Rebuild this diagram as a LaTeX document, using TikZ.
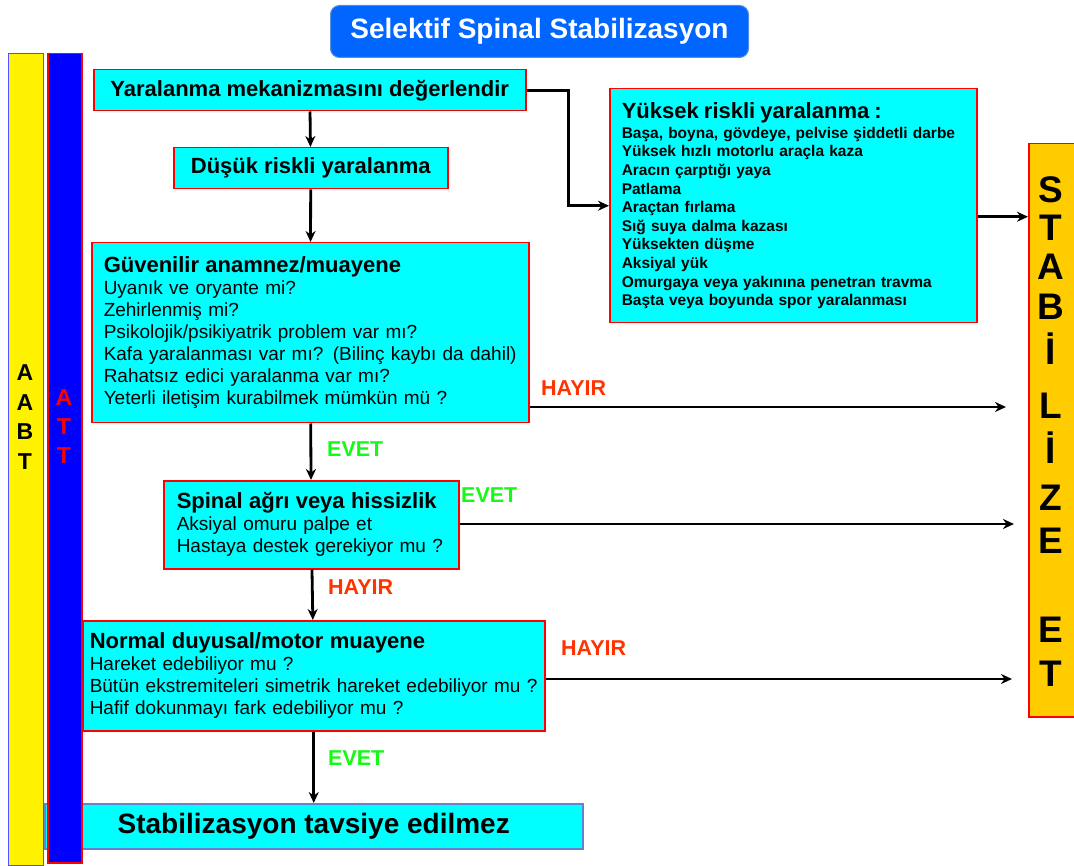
\documentclass[tikz,border=0pt]{standalone}
\usepackage{fontspec}
\setmainfont{Liberation Sans}
\usetikzlibrary{arrows.meta}

\definecolor{titleblue}{RGB}{0,102,255}
\definecolor{titleedge}{RGB}{90,140,220}
\definecolor{boxcyan}{RGB}{0,255,255}
\definecolor{barblue}{RGB}{80,80,255}
\definecolor{edgeblue}{RGB}{100,130,210}
\definecolor{stabgold}{RGB}{255,204,0}
\definecolor{evetgreen}{RGB}{20,250,20}
\definecolor{hayirred}{RGB}{255,51,0}

\newcommand{\titlefont}{\fontsize{28}{30}\selectfont\bfseries}
\newcommand{\headfont}{\fontsize{22}{22}\selectfont\bfseries}
\newcommand{\bodyfont}{\fontsize{19}{22}\selectfont}
\newcommand{\riskfont}{\fontsize{15.5}{18.6}\selectfont\bfseries}
\newcommand{\answerfont}{\fontsize{21.5}{22}\selectfont\bfseries}
\newcommand{\barfont}{\fontsize{23}{23}\selectfont\bfseries}
\newcommand{\stabfont}{\fontsize{37}{37}\selectfont\bfseries}
\newcommand{\bottomfont}{\fontsize{28}{30}\selectfont\bfseries}

\begin{document}
\begin{tikzpicture}[x=1pt, y=-1pt,
    flowbox/.style={draw=red, line width=1.5pt, fill=boxcyan, inner sep=0pt, anchor=north west},
    arr/.style={draw, line width=2.8pt, -{Stealth[length=11pt, width=10pt]}},
    evet/.style={text=evetgreen, font=\answerfont, anchor=west, inner sep=0pt},
    hayir/.style={text=hayirred, font=\answerfont, anchor=west, inner sep=0pt}]
\useasboundingbox (0,0) rectangle (1074,866);

\node[draw=titleedge, line width=1pt, fill=titleblue, rounded corners=9pt, minimum width=418pt, minimum height=52pt, anchor=north west, text=white, font=\titlefont] (title) at (330,5) {Selektif Spinal Stabilizasyon};

% bottom box lies under the two bars
\node[draw=edgeblue, line width=1.5pt, fill=boxcyan, minimum width=538pt, minimum height=45pt, anchor=north west, font=\bottomfont] (avoid) at (44,803) {Stabilizasyon tavsiye edilmez};

\node[draw=barblue, line width=1.2pt, fill=yellow, minimum width=35pt, minimum height=812pt, anchor=north west] (aabt) at (8,53) {};
\node[draw=red, line width=1.5pt, fill=blue, minimum width=34pt, minimum height=809pt, anchor=north west] (att) at (47,53) {};
\foreach \n/\y [count=\i] in {A/373, A/403, B/432, T/462}{
    \node[font=\barfont] (aabt-l\i) at (25,\y) {\n};
}
\foreach \n/\y [count=\i] in {A/398, T/427, T/456}{
    \node[font=\barfont, text=red] (att-l\i) at (64,\y) {\n};
}

\node[flowbox, minimum width=432pt, minimum height=41pt, font=\headfont] (mech) at (93,69) {Yaralanma mekanizmasını değerlendir};
\node[flowbox, minimum width=274pt, minimum height=41pt, font=\headfont] (dusuk) at (173,147) {Düşük riskli yaralanma};
\node[flowbox, minimum height=234pt, text width=343pt, inner xsep=12pt, align=left, font=\riskfont] (yuksek) at (609,88) {{\headfont Yüksek riskli yaralanma :}\\[1pt]
    Başa, boyna, gövdeye, pelvise şiddetli darbe\\
    Yüksek hızlı motorlu araçla kaza\\
    Aracın çarptığı yaya\\
    Patlama\\
    Araçtan fırlama\\
    Sığ suya dalma kazası\\
    Yüksekten düşme\\
    Aksiyal yük\\
    Omurgaya veya yakınına penetran travma\\
    Başta veya boyunda spor yaralanması};
\node[flowbox, minimum height=180pt, text width=413pt, inner xsep=12pt, align=left, font=\bodyfont] (guven) at (91,242) {{\headfont Güvenilir anamnez/muayene}\\
    Uyanık ve oryante mi?\\
    Zehirlenmiş mi?\\
    Psikolojik/psikiyatrik problem var mı?\\
    Kafa yaralanması var mı? (Bilinç kaybı da dahil)\\
    Rahatsız edici yaralanma var mı?\\
    Yeterli iletişim kurabilmek mümkün mü ?};
\node[flowbox, minimum height=88pt, text width=269pt, inner xsep=13pt, align=left, font=\bodyfont] (spinal) at (163,480) {{\headfont Spinal ağrı veya hissizlik}\\
    Aksiyal omuru palpe et\\
    Hastaya destek gerekiyor mu ?};
\node[flowbox, minimum height=110pt, text width=448pt, inner xsep=7pt, align=left, font=\bodyfont] (normal) at (82,620) {{\headfont Normal duyusal/motor muayene}\\
    Hareket edebiliyor mu ?\\
    Bütün ekstremiteleri simetrik hareket edebiliyor mu ?\\
    Hafif dokunmayı fark edebiliyor mu ?};

\node[draw=red, line width=1.5pt, fill=stabgold, minimum width=46pt, minimum height=573pt, anchor=north west] (stab) at (1028,143) {};
\foreach \n/\y [count=\i] in {S/190, T/228, A/267, B/307, İ/349, L/406, İ/448, Z/498, E/541, E/630, T/674}{
    \node[font=\stabfont] (stab-l\i) at (1051,\y) {\n};
}

\draw[arr] (mech) -- (dusuk);
\draw[arr] (dusuk) -- (guven);
\draw[arr] (guven) -- (spinal);
\draw[arr] (spinal) -- (normal);
\draw[arr] (normal) -- (avoid);
\draw[arr] (mech.east) -- ++(42,0) |- (yuksek.west);
\coordinate (y-out) at ([yshift=-11pt]yuksek.east);
\draw[arr] (y-out) -- (y-out -| stab.west);
\coordinate (h1) at (1006,407);
\draw[arr] (guven.east |- h1) -- (h1);
\coordinate (e2) at (1014,524);
\draw[arr] (spinal.east |- e2) -- (e2);
\coordinate (h3) at (1012,679);
\draw[arr] (normal.east |- h3) -- (h3);

\node[hayir] (hayir1) at (541,388) {HAYIR};
\node[evet] (evet1) at (327,449) {EVET};
\node[evet] (evet2) at (461,495) {EVET};
\node[hayir] (hayir2) at (328,587) {HAYIR};
\node[hayir] (hayir3) at (561,648) {HAYIR};
\node[evet] (evet3) at (328,758) {EVET};
\end{tikzpicture}
\end{document}
